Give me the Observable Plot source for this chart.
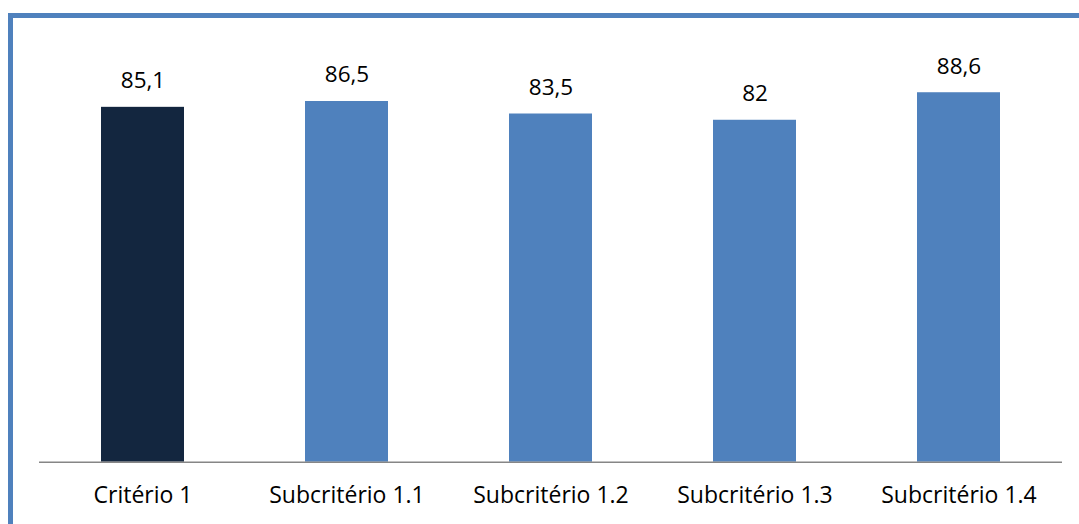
<!DOCTYPE html>
<html>
<head>
<meta charset="utf-8">
<script src="https://cdn.jsdelivr.net/npm/d3@7"></script>
<script src="https://cdn.jsdelivr.net/npm/@observablehq/plot@0.6"></script>
<style>
  html, body { margin: 0; padding: 0; background: #fff; overflow: hidden; }
  #wrap { position: relative; width: 1079px; height: 524px; overflow: hidden; }
  #border { position: absolute; left: 8px; top: 13px; width: 1200px; height: 700px;
            border: 5px solid #4f81bd; box-sizing: border-box; }
  #chart { position: absolute; left: 0; top: 0; }
</style>
</head>
<body>
<div id="wrap">
  <div id="border"></div>
  <div id="chart"></div>
</div>
<script>
const categories = ["Critério 1", "Subcritério 1.1", "Subcritério 1.2", "Subcritério 1.3", "Subcritério 1.4"];
const values = [85.1, 86.5, 83.5, 82, 88.6];
const labels = ["85,1", "86,5", "83,5", "82", "88,6"];
const barColors = ["#13263f", "#4f81bd", "#4f81bd", "#4f81bd", "#4f81bd"];

const rows = categories.map((c, i) => ({cat: c, value: values[i], label: labels[i], color: barColors[i]}));

const chart = Plot.plot({
  width: 1079,
  height: 524,
  marginLeft: 39,
  marginRight: 17,
  marginTop: 44.7,
  marginBottom: 62.3,
  style: {fontFamily: "'Open Sans', sans-serif", fontSize: "23px", background: "transparent", overflow: "visible"},
  x: {domain: categories, paddingInner: 0.595, paddingOuter: 0.2975, label: null, tickSize: 0, tickPadding: 0},
  y: {domain: [0, 100], axis: null},
  marks: [
    Plot.barY(rows, {x: "cat", y: "value", fill: "color"}),
    Plot.ruleY([0], {stroke: "#868686", strokeWidth: 1.5}),
    Plot.text(rows, {x: "cat", y: "value", text: "label", dy: -19, lineAnchor: "bottom", fill: "#000", fontSize: 22.5}),
    Plot.axisX({tickSize: 0, tickPadding: 24, fontSize: 23, fill: "#000", label: null})
  ]
});
document.getElementById("chart").appendChild(chart);
</script>
</body>
</html>
